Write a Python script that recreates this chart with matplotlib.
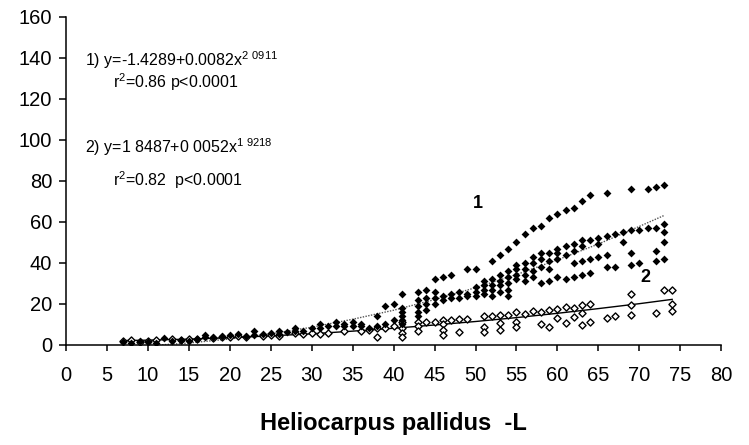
import matplotlib.pyplot as plt

plt.rcParams['font.family'] = ['Liberation Sans', 'DejaVu Sans']
plt.rcParams['mathtext.fontset'] = 'custom'
plt.rcParams['mathtext.rm'] = 'Liberation Sans'

# series 1 (filled diamonds)
s1_x = [7, 8, 9, 10, 11, 12, 13, 14, 15, 16, 17, 17, 18, 19, 20, 21, 22, 23, 23, 24,
        25, 26, 26, 27, 28, 28, 29, 30, 31, 31, 32, 33, 33, 34, 34, 35, 35, 36, 36, 37,
        38, 38, 39, 39, 40, 40,
        41, 41, 41, 41, 41, 41, 43, 43, 43, 43, 43, 44, 44, 44, 44, 45, 45, 45, 45,
        46, 46, 46, 47, 47, 47, 48, 48, 49, 49, 49, 50, 50, 50, 50, 51, 51, 51, 51,
        52, 52, 52, 52, 52, 53, 53, 53, 53, 53, 54, 54, 54, 54, 54, 54,
        55, 55, 55, 55, 55, 56, 56, 56, 56, 56, 57, 57, 57, 57, 57,
        58, 58, 58, 58, 58, 59, 59, 59, 59, 59, 60, 60, 60, 60, 60, 61, 61, 61, 61,
        62, 62, 62, 62, 62, 63, 63, 63, 63, 63, 64, 64, 64, 64, 65, 65, 65,
        66, 66, 66, 66, 67, 67, 68, 68, 69, 69, 69, 69, 70, 70, 71, 71,
        72, 72, 72, 72, 73, 73, 73, 73, 73]
s1_y = [1.5, 1, 2, 1.5, 1, 3.5, 2, 2.5, 2, 3, 5, 4, 4, 4.5, 5, 5.5, 4.5, 7, 5, 5.5,
        6, 7, 5.5, 6.5, 8, 7, 7, 8, 10, 8, 9, 11, 9, 10, 9, 11, 9, 10, 9, 8,
        9, 14, 19, 10, 20, 12,
        25, 18, 16, 14, 12, 10, 26, 22, 19, 16, 14, 27, 23, 20, 17, 32, 26, 23, 20,
        33, 24, 22, 34, 25, 23, 26, 23, 37, 25, 24, 37, 28, 26, 24, 31, 29, 27, 25,
        41, 32, 29, 27, 24, 44, 34, 31, 29, 26, 47, 36, 33, 30, 27, 24,
        50, 39, 37, 34, 32, 54, 40, 37, 34, 31, 57, 43, 40, 36, 33,
        58, 45, 42, 38, 30, 62, 45, 41, 37, 31, 64, 47, 45, 42, 33, 66, 48, 44, 32,
        67, 49, 46, 40, 33, 70, 51, 48, 41, 34, 73, 51, 42, 35, 52, 49, 43,
        74, 53, 44, 38, 54, 38, 55, 50, 76, 56, 45, 39, 56, 40, 76, 57,
        77, 57, 46, 41, 78, 59, 55, 50, 42]

# series 2 (open diamonds)
s2_x = [7, 8, 9, 10, 11, 13, 14, 15, 16, 18, 19, 20, 21, 22, 24, 25, 26, 28, 29, 30,
        31, 32, 34, 36, 37, 38, 38, 39, 40,
        41, 41, 41, 41, 43, 43, 43, 44, 45, 46, 46, 46, 46, 47, 48, 48, 49,
        51, 51, 51, 52, 53, 53, 53, 54, 55, 55, 55, 56, 57, 58, 58, 59, 59,
        60, 60, 61, 61, 62, 62, 63, 63, 63, 64, 64, 66, 67, 69, 69, 69, 72,
        73, 74, 74, 74]
s2_y = [2, 2.5, 1.5, 2, 2.5, 3, 2.5, 3, 3, 3.5, 4, 4, 4.5, 4, 4.5, 5, 4.5, 6, 5.5, 6,
        5.5, 6, 7, 7, 7.5, 4, 8, 8, 9,
        11, 8, 6, 4, 11, 9, 7, 11.4, 11.4, 12, 10, 7.3, 5, 12, 12.5, 6.5, 12.7,
        14.3, 8.9, 6.5, 14.3, 14.6, 10.6, 7.3, 14.6, 15.8, 11.4, 8.9, 15.2, 16.3, 15.8, 10.2, 17, 8.5,
        17.4, 13, 18.7, 10.6, 17.9, 13.8, 19.3, 15.4, 9.7, 20, 11.4, 13, 14.1, 24.9, 19.5, 14.6, 15.4,
        26.8, 26.8, 20, 16.3]

# fitted curves
fit1_x = [7, 10, 15, 20, 25, 30, 35, 40, 45, 50, 55, 60, 65, 70, 73]
fit1_y = [-0.9, -0.4, 0.9, 2.9, 5.4, 8.6, 12.5, 16.9, 22.1, 27.9, 34.3, 41.5, 49.2, 57.8, 63.1]
fit2_x = [7, 10, 15, 20, 25, 30, 35, 40, 45, 50, 55, 60, 65, 70, 74]
fit2_y = [2.1, 2.3, 2.8, 3.5, 4.4, 5.4, 6.7, 8.1, 9.7, 11.4, 13.3, 15.4, 17.7, 20.1, 22.2]

x_ticks = list(range(0, 81, 5))
y_ticks = list(range(0, 161, 20))

fig = plt.figure(figsize=(7.49, 4.45), dpi=100)
ax = fig.add_axes([0.088, 0.225, 0.875, 0.737])

ax.plot(fit1_x, fit1_y, color='#555555', lw=1.0, ls=(0, (1, 1)))
ax.plot(fit2_x, fit2_y, color='black', lw=1.0)
ax.scatter(s2_x, s2_y, marker='D', s=13, facecolor='white', edgecolor='black', linewidths=1.0, zorder=3)
ax.scatter(s1_x, s1_y, marker='D', s=16, color='black', linewidths=0, zorder=4)

ax.set_xlim(0, 80)
ax.set_ylim(0, 160)
ax.set_xticks(x_ticks)
ax.set_yticks(y_ticks)
ax.tick_params(labelsize=14.5, width=1.1, direction='out')
ax.tick_params(axis='x', length=4, pad=11)
ax.tick_params(axis='y', length=5, pad=5)
for side in ['top', 'right']:
    ax.spines[side].set_visible(False)
for side in ['left', 'bottom']:
    ax.spines[side].set_linewidth(1.1)

ax.set_xlabel('Heliocarpus pallidus  -L', fontsize=17, fontweight='bold', labelpad=20)

ax.text(2.3, 139, r'1) y=-1.4289+0.0082x$^{\rm 2\ 0911}$', fontsize=11.5, va='center')
ax.text(5.7, 128, r'r$^{2}$=0.86 p<0.0001', fontsize=11.5, va='center')
ax.text(2.3, 96.5, r'2) y=1 8487+0 0052x$^{\rm 1\ 9218}$', fontsize=11.5, va='center')
ax.text(5.7, 80.5, r'r$^{2}$=0.82  p<0.0001', fontsize=11.5, va='center')
ax.text(50.3, 69, '1', fontsize=13, fontweight='bold', ha='center', va='center')
ax.text(70.7, 33, '2', fontsize=13, fontweight='bold', ha='center', va='center')

fig.savefig('out.png', dpi=100)
